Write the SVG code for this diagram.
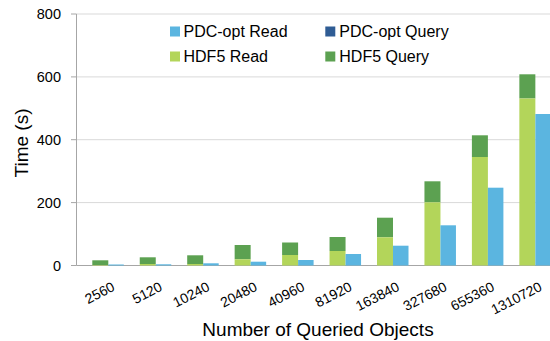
<svg xmlns="http://www.w3.org/2000/svg" width="550" height="341" viewBox="0 0 550 341">
<style>
.grid{stroke:#d9d9d9;stroke-width:1}
.axis{stroke:#a6a6a6;stroke-width:1}
.ylab{font-family:"Liberation Sans",Arial,sans-serif;font-size:14.5px;fill:#000;text-anchor:end}
.xlab{font-family:"Liberation Sans",Arial,sans-serif;font-size:14px;fill:#000;text-anchor:end}
.title{font-family:"Liberation Sans",Arial,sans-serif;font-size:19px;fill:#000;text-anchor:middle}
.leg{font-family:"Liberation Sans",Arial,sans-serif;font-size:16px;fill:#000}
.hq{fill:#5ca151}
.hr{fill:#b3d55a}
.pr{fill:#5bb5e0}
.pq{fill:#2f5c94}
</style>
<rect width="550" height="341" fill="#fff"/>
<g id="grid">
<line class="grid" x1="76.5" y1="14" x2="550" y2="14"/>
<line class="grid" x1="76.5" y1="76.9" x2="550" y2="76.9"/>
<line class="grid" x1="76.5" y1="139.7" x2="550" y2="139.7"/>
<line class="grid" x1="76.5" y1="202.6" x2="550" y2="202.6"/>
</g>
<g id="axes">
<line class="axis" x1="76.5" y1="14" x2="76.5" y2="265.5"/>
<line class="axis" x1="76.5" y1="265.5" x2="550" y2="265.5"/>
<line class="axis" x1="71" y1="14" x2="76.5" y2="14"/>
<line class="axis" x1="71" y1="76.9" x2="76.5" y2="76.9"/>
<line class="axis" x1="71" y1="139.7" x2="76.5" y2="139.7"/>
<line class="axis" x1="71" y1="202.6" x2="76.5" y2="202.6"/>
<line class="axis" x1="71" y1="265.5" x2="76.5" y2="265.5"/>
</g>
<g id="y-labels">
<text class="ylab" x="61" y="19">800</text>
<text class="ylab" x="61" y="82">600</text>
<text class="ylab" x="61" y="145">400</text>
<text class="ylab" x="61" y="208">200</text>
<text class="ylab" x="61" y="271">0</text>
</g>
<g id="bars">
<g id="g2560">
<rect class="hq" x="92.3" y="260.3" width="16" height="4.7"/>
<rect class="hr" x="92.3" y="265" width="16" height="0.5"/>
<rect class="pr" x="108.3" y="264.5" width="15.5" height="1"/>
</g>
<g id="g5120">
<rect class="hq" x="139.75" y="257.3" width="16" height="6.7"/>
<rect class="hr" x="139.75" y="264" width="16" height="1.5"/>
<rect class="pr" x="155.75" y="264.3" width="15.5" height="1.2"/>
</g>
<g id="g10240">
<rect class="hq" x="187.2" y="255.3" width="16" height="8.7"/>
<rect class="hr" x="187.2" y="264" width="16" height="1.5"/>
<rect class="pr" x="203.2" y="263.3" width="15.5" height="2.2"/>
</g>
<g id="g20480">
<rect class="hq" x="234.65" y="245" width="16" height="14.3"/>
<rect class="hr" x="234.65" y="259.3" width="16" height="6.2"/>
<rect class="pr" x="250.65" y="261.7" width="15.5" height="3.8"/>
</g>
<g id="g40960">
<rect class="hq" x="282.1" y="242.5" width="16" height="12.5"/>
<rect class="hr" x="282.1" y="255" width="16" height="10.5"/>
<rect class="pr" x="298.1" y="260" width="15.5" height="5.5"/>
</g>
<g id="g81920">
<rect class="hq" x="329.55" y="237" width="16" height="14"/>
<rect class="hr" x="329.55" y="251" width="16" height="14.5"/>
<rect class="pr" x="345.55" y="254" width="15.5" height="11.5"/>
</g>
<g id="g163840">
<rect class="hq" x="377" y="217.7" width="16" height="19.6"/>
<rect class="hr" x="377" y="237.3" width="16" height="28.2"/>
<rect class="pr" x="393" y="245.7" width="15.5" height="19.8"/>
</g>
<g id="g327680">
<rect class="hq" x="424.45" y="181.3" width="16" height="21"/>
<rect class="hr" x="424.45" y="202.3" width="16" height="63.2"/>
<rect class="pr" x="440.45" y="225.3" width="15.5" height="40.2"/>
</g>
<g id="g655360">
<rect class="hq" x="471.9" y="135.3" width="16" height="21.7"/>
<rect class="hr" x="471.9" y="157" width="16" height="108.5"/>
<rect class="pr" x="487.9" y="187.7" width="15.5" height="77.8"/>
</g>
<g id="g1310720">
<rect class="hq" x="519.35" y="74.3" width="16" height="24.2"/>
<rect class="hr" x="519.35" y="98.5" width="16" height="167"/>
<rect class="pr" x="535.35" y="114" width="15.5" height="151.5"/>
</g>
</g>
<g id="x-labels">
<text class="xlab" transform="translate(115.8,290) rotate(-27)">2560</text>
<text class="xlab" transform="translate(163.25,290) rotate(-27)">5120</text>
<text class="xlab" transform="translate(210.7,290) rotate(-27)">10240</text>
<text class="xlab" transform="translate(258.15,290) rotate(-27)">20480</text>
<text class="xlab" transform="translate(305.6,290) rotate(-27)">40960</text>
<text class="xlab" transform="translate(353.05,290) rotate(-27)">81920</text>
<text class="xlab" transform="translate(400.5,290) rotate(-27)">163840</text>
<text class="xlab" transform="translate(447.95,290) rotate(-27)">327680</text>
<text class="xlab" transform="translate(495.4,290) rotate(-27)">655360</text>
<text class="xlab" transform="translate(542.85,290) rotate(-27)">1310720</text>
</g>
<g id="titles">
<text class="title" x="318" y="336">Number of Queried Objects</text>
<text class="title" transform="translate(28,143) rotate(-90)">Time (s)</text>
</g>
<g id="legend">
<rect class="pr" x="170" y="26.5" width="10" height="10"/>
<text class="leg" x="183.5" y="36.5">PDC-opt Read</text>
<rect class="pq" x="325.3" y="26.5" width="10" height="10"/>
<text class="leg" x="339.3" y="36.5">PDC-opt Query</text>
<rect class="hr" x="170" y="51.5" width="10" height="10"/>
<text class="leg" x="183.5" y="62">HDF5 Read</text>
<rect class="hq" x="325.3" y="51.5" width="10" height="10"/>
<text class="leg" x="339.3" y="62">HDF5 Query</text>
</g>
</svg>
